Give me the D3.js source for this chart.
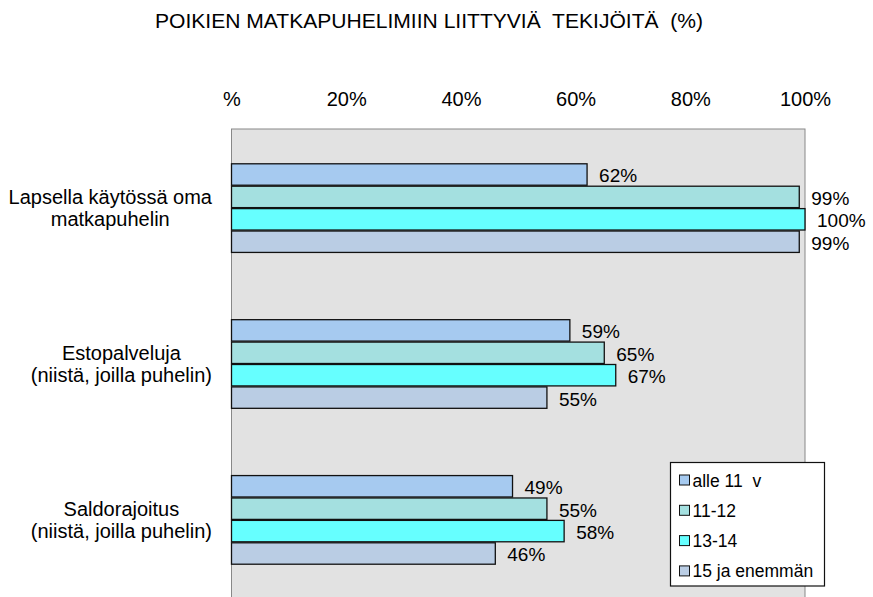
<!DOCTYPE html>
<html>
<head>
<meta charset="utf-8">
<script src="https://cdn.jsdelivr.net/npm/d3@7"></script>
<style>
  body { margin: 0; background: #fff; }
  svg text { font-family: "Liberation Sans", Arial, sans-serif; fill: #000; }
</style>
</head>
<body>
<div id="chart"></div>
<script>
// chart data
const title = 'POIKIEN MATKAPUHELIMIIN LIITTYVIÄ  TEKIJÖITÄ  (%)';
const categories = [
    ['Lapsella käytössä oma', 'matkapuhelin'],
    ['Estopalveluja', '(niistä, joilla puhelin)'],
    ['Saldorajoitus', '(niistä, joilla puhelin)']
];
const seriesNames = ['alle 11  v', '11-12', '13-14', '15 ja enemmän'];
const seriesColors = ['#a6caf0', '#a4e0e0', '#66ffff', '#bacde4'];
const values = [
    [62, 59, 49],   // alle 11 v
    [99, 65, 55],   // 11-12
    [100, 67, 58],  // 13-14
    [99, 55, 46]    // 15 ja enemmän
];
const tickValues = [0, 20, 40, 60, 80, 100];

const width = 873, height = 597;
const plot = {left: 231.5, right: 805, top: 129, bottom: 599};

const svg = d3.select('#chart').append('svg')
    .attr('width', width)
    .attr('height', height);

// title
svg.append('text')
    .attr('x', 429)
    .attr('y', 28)
    .attr('text-anchor', 'middle')
    .attr('font-size', 21)
    .attr('textLength', 548)
    .attr('lengthAdjust', 'spacingAndGlyphs')
    .style('white-space', 'pre')
    .text(title);

// scales
const x = d3.scaleLinear().domain([0, 100]).range([plot.left, plot.right]);
const catIdx = categories.map((c, i) => i);
const y = d3.scaleBand()
    .domain(catIdx)
    .range([plot.top, plot.bottom])
    .paddingInner(0.425)
    .paddingOuter(0.22);
const ySub = d3.scaleBand()
    .domain(seriesNames.map((s, i) => i))
    .range([0, y.bandwidth()]);

// plot background
svg.append('rect')
    .attr('x', plot.left)
    .attr('y', plot.top)
    .attr('width', plot.right - plot.left)
    .attr('height', plot.bottom - plot.top)
    .attr('fill', '#e2e2e2')
    .attr('stroke', '#888')
    .attr('stroke-width', 1);

// x axis on top, no ticks/domain
const xAxis = d3.axisTop(x)
    .tickValues(tickValues)
    .tickSize(0)
    .tickPadding(0)
    .tickFormat(d => d === 0 ? '%' : d + '%');
const gx = svg.append('g')
    .attr('transform', 'translate(0,106)')
    .call(xAxis);
gx.select('.domain').remove();
gx.selectAll('text')
    .attr('font-size', 20)
    .attr('font-family', null);

// bars
const groups = svg.selectAll('g.cat')
    .data(catIdx)
    .join('g')
    .attr('class', 'cat')
    .attr('transform', c => `translate(0,${y(c)})`);

groups.selectAll('rect')
    .data(c => values.map((v, s) => ({s: s, v: v[c]})))
    .join('rect')
    .attr('x', x(0))
    .attr('y', d => ySub(d.s) + 0.5)
    .attr('width', d => x(d.v) - x(0))
    .attr('height', ySub.bandwidth() - 1)
    .attr('fill', d => seriesColors[d.s])
    .attr('stroke', '#111')
    .attr('stroke-width', 1.3);

groups.selectAll('text.val')
    .data(c => values.map((v, s) => ({s: s, v: v[c]})))
    .join('text')
    .attr('class', 'val')
    .attr('x', d => x(d.v) + 12)
    .attr('y', d => ySub(d.s) + ySub.bandwidth() / 2 + 8)
    .attr('font-size', 19)
    .text(d => d.v + '%');

// category labels: lines centred in a block whose right edge is at 212
const labelRight = 212;
const lineH = 22.5;
categories.forEach((lines, c) => {
    const cy = y(c) + y.bandwidth() / 2;
    const g = svg.append('g');
    const texts = lines.map((t, i) => g.append('text')
        .attr('font-size', 20)
        .attr('text-anchor', 'middle')
        .attr('y', cy + 7 + (i - (lines.length - 1) / 2) * lineH)
        .style('white-space', 'pre')
        .text(t));
    const maxW = d3.max(texts, t => t.node().getComputedTextLength());
    texts.forEach(t => t.attr('x', labelRight - maxW / 2));
});

// legend
const legend = svg.append('g').attr('transform', 'translate(670.5,462.5)');
legend.append('rect')
    .attr('width', 154)
    .attr('height', 123.5)
    .attr('fill', '#fff')
    .attr('stroke', '#111')
    .attr('stroke-width', 1.2);
const items = legend.selectAll('g.item')
    .data(seriesNames)
    .join('g')
    .attr('class', 'item')
    .attr('transform', (d, i) => `translate(0,${17.5 + i * 30.3})`);
items.append('rect')
    .attr('x', 9)
    .attr('y', -5)
    .attr('width', 10)
    .attr('height', 10)
    .attr('fill', (d, i) => seriesColors[i])
    .attr('stroke', '#111')
    .attr('stroke-width', 1);
items.append('text')
    .attr('x', 22)
    .attr('y', 6.5)
    .attr('font-size', 17.5)
    .style('white-space', 'pre')
    .text(d => d);
</script>
</body>
</html>
